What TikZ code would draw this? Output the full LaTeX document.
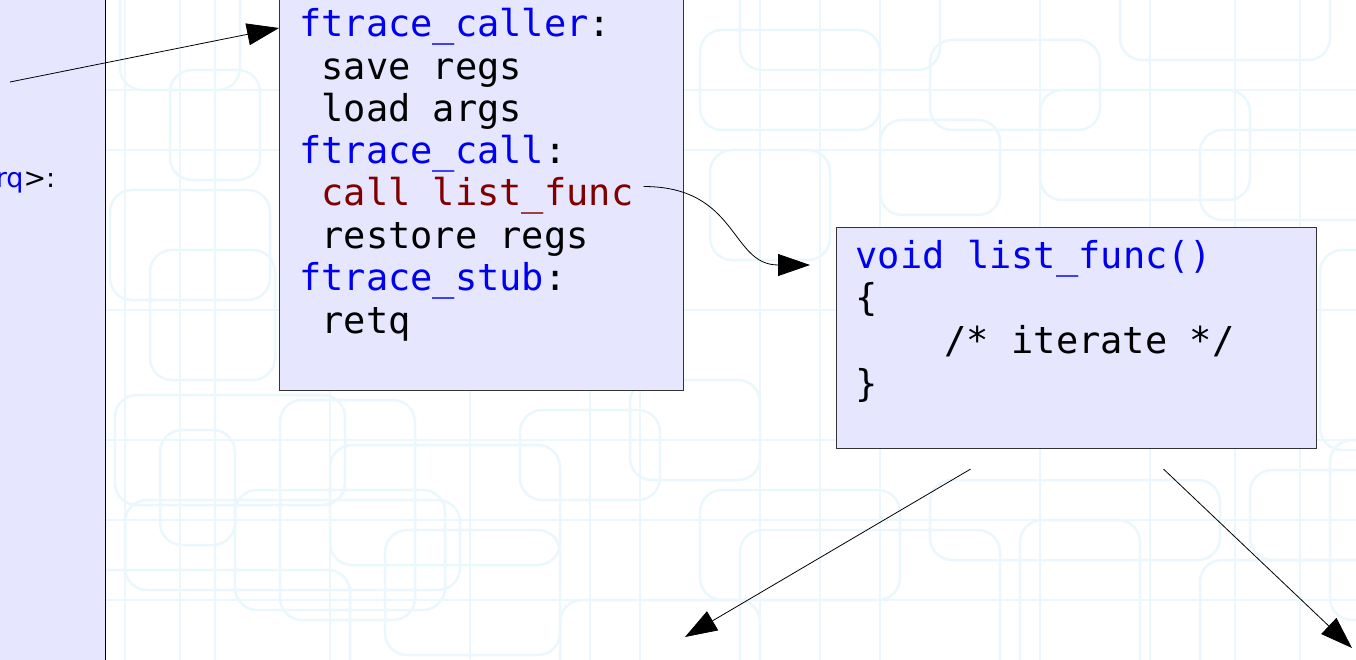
\documentclass[tikz,border=0pt]{standalone}
\usepackage{fontspec}
\setmonofont{DejaVu Sans Mono}
\newfontfamily\labelfont{DejaVu Sans}
\usetikzlibrary{arrows.meta}
\definecolor{boxfill}{RGB}{230,230,255}
\definecolor{kwblue}{RGB}{0,0,240}
\definecolor{kwred}{RGB}{128,0,0}
\definecolor{bgline}{RGB}{234,247,252}
\newcommand{\us}{{\char95}}
\begin{document}
\begin{tikzpicture}[x=1pt,y=-1pt,
  codebox/.style={draw=black!80, fill=boxfill, line width=1.1pt, inner sep=0pt},
  code/.style={anchor=base west, inner sep=0pt, font=\ttfamily\fontsize{37}{42}\selectfont},
  flow/.style={draw=black, line width=0.8pt, -{Triangle[length=32pt,width=22pt]}},
  bg/.style={draw=bgline, line width=2.5pt, rounded corners=22pt}
]
\useasboundingbox (0,0) rectangle (1356,660);
% background pattern
\begin{scope}
\clip (0,0) rectangle (1356,660);
\fill[white] (0,0) rectangle (1356,660);
\foreach \x in {125,180,215,330,470,590,640,760,820,880,1040,1150,1235,1300}
  \draw[draw=bgline, line width=2.5pt] (\x,0) -- (\x,660);
\foreach \y in {90,150,310,440,520,600}
  \draw[draw=bgline, line width=2.5pt] (100,\y) -- (1356,\y);
\foreach \a/\b/\c/\d in {115/395/345/505,160/430/235/545,125/500/460/590,235/490/445/610,
  280/400/415/620,330/445/560/565,385/530/560/655,60/570/350/700,520/410/660/500,
  630/380/760/480,700/490/900/600,740/530/1000/700,930/480/1220/560,1020/520/1140/700,
  1200/560/1400/700,1250/470/1400/560,700/30/880/130,740/-30/940/70,930/40/1100/130,
  1040/90/1250/200,1120/-30/1330/60,1200/130/1400/220,710/150/830/260,880/120/1000/215,
  120/-30/240/90,170/70/260/180,110/190/270/300,150/250/275/380,1320/250/1400/450,
  1330/440/1400/620,560/600/760/700}
  \draw[bg] (\a,\b) rectangle (\c,\d);
\end{scope}
% boxes
\node[codebox, draw=black, line width=0.9pt, anchor=north east, minimum width=150pt, minimum height=720pt] (left) at (106,-30) {};
\node[codebox, anchor=north west, minimum width=404pt, minimum height=420pt] (caller) at (279,-30) {};
\node[codebox, anchor=north west, minimum width=480pt, minimum height=221pt] (func) at (836,227) {};
% left label
\node[anchor=base east, inner sep=0pt, font=\labelfont\fontsize{27}{30}\selectfont] (irq) at (55.5,187.5) {\textcolor{kwblue}{rq}>:};
% caller text
\node[code] (l1) at (299,37) {\textcolor{kwblue}{ftrace\us caller}:};
\node[code] (l2) at (321.3,80) {save regs};
\node[code] (l3) at (321.3,122) {load args};
\node[code] (l4) at (299,163.5) {\textcolor{kwblue}{ftrace\us call}:};
\node[code] (l5) at (321.3,205.5) {\textcolor{kwred}{call list\us func}};
\node[code] (l6) at (321.3,248) {restore regs};
\node[code] (l7) at (299,290) {\textcolor{kwblue}{ftrace\us stub}:};
\node[code] (l8) at (321.3,333) {retq};
% func text
\node[code] (f1) at (855.5,268) {\textcolor{kwblue}{void list\us func()}};
\node[code] (f2) at (855.5,310.5) {\{};
\node[code] (f3) at (944.5,353) {/* iterate */};
\node[code] (f4) at (855.5,396) {\}};
% connectors
\coordinate (s1) at (10,82);
\draw[flow] (s1) -- ([yshift=-58pt]caller.north west);
\coordinate (c1) at ([xshift=10pt,yshift=19pt]l5.base east);
\coordinate (c2) at ([xshift=-26pt,yshift=-38pt]func.north west);
\draw[flow] (c1) .. controls +(95,0) and +(-80,0) .. (c2);
\coordinate (d1) at ([xshift=-106pt,yshift=-20pt]func.south);
\coordinate (d2) at (685,637);
\draw[flow] (d1) -- (d2);
\coordinate (e1) at ([xshift=87pt,yshift=-20pt]func.south);
\coordinate (e2) at (1352,648);
\draw[flow] (e1) -- (e2);
\end{tikzpicture}
\end{document}
